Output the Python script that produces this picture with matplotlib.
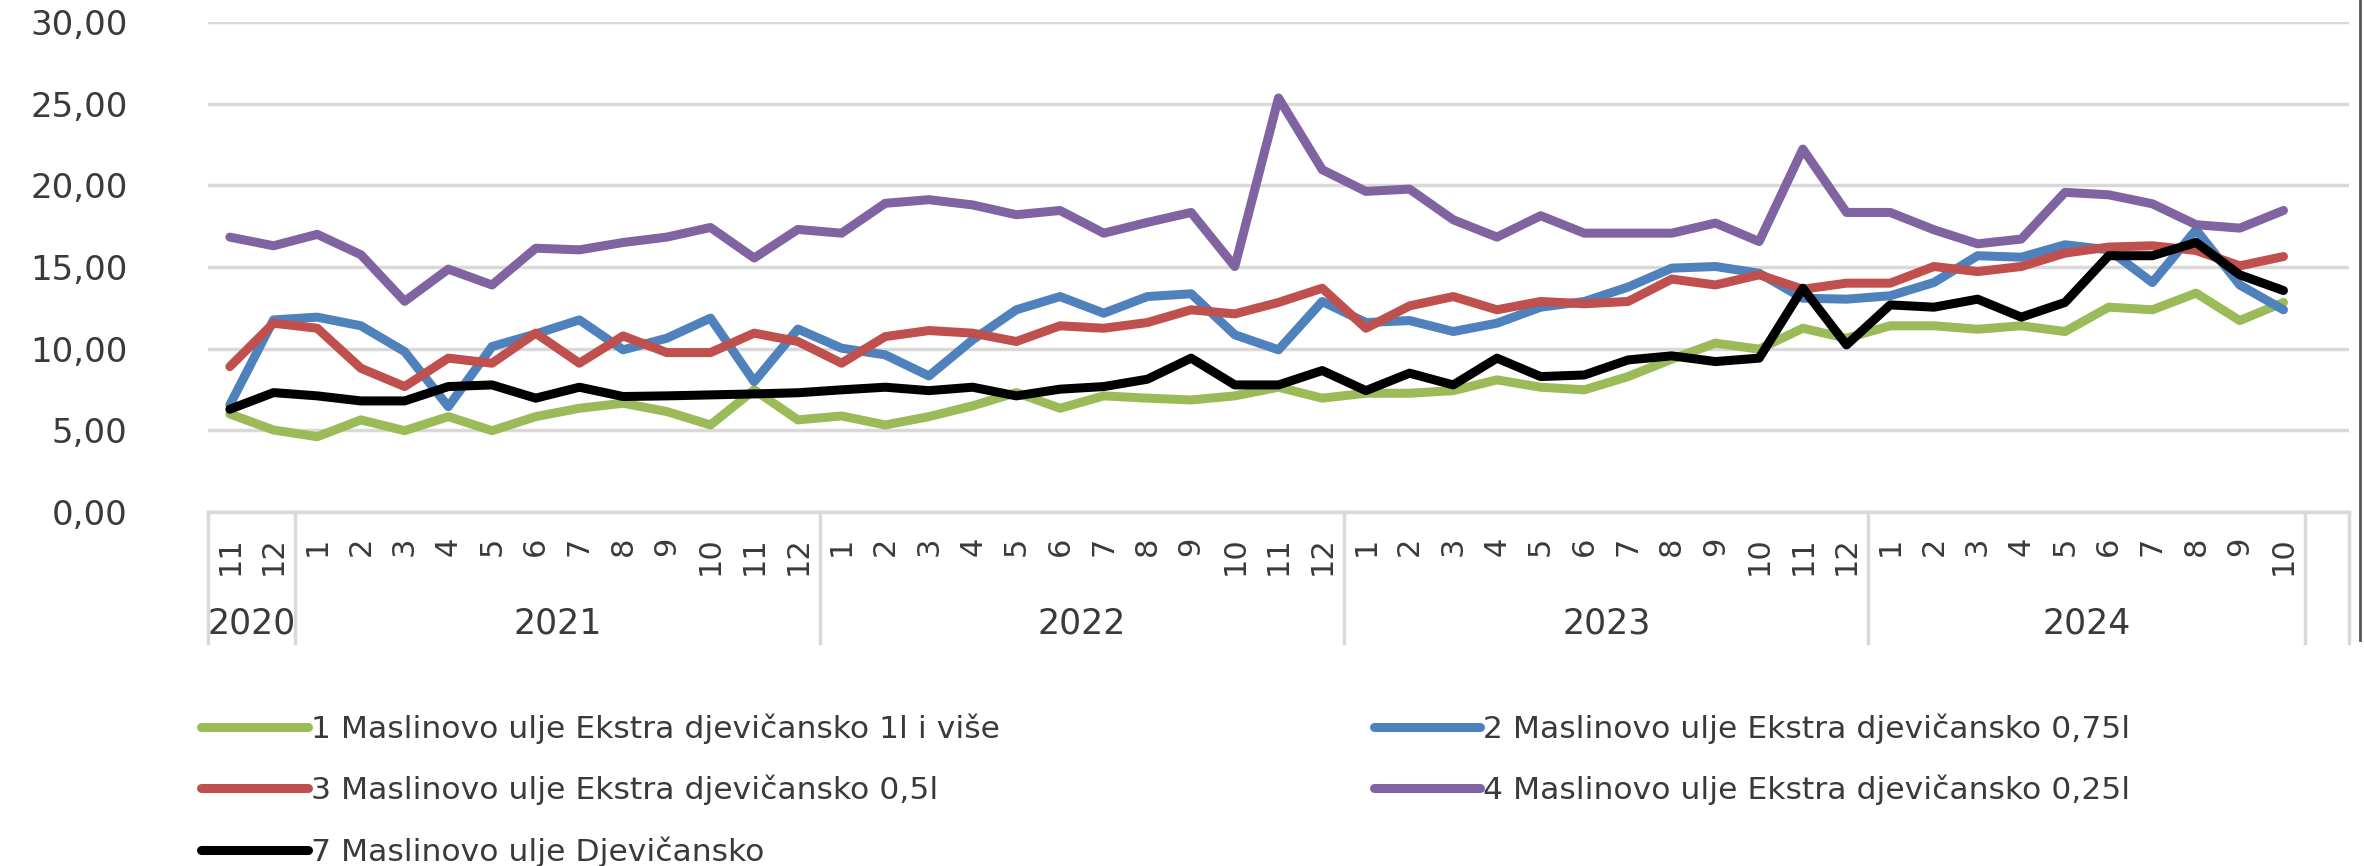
import matplotlib
matplotlib.use('agg')
import matplotlib.pyplot as plt
from matplotlib.lines import Line2D
from matplotlib.ticker import FuncFormatter, MultipleLocator
import matplotlib.transforms as mtransforms

# categories: month numbers per year (Nov 2020 .. Oct 2024)
year_labels = ['2020', '2021', '2022', '2023', '2024']
months_per_year = [[11, 12], list(range(1, 13)), list(range(1, 13)), list(range(1, 13)), list(range(1, 11))]

series_names = [
    '1 Maslinovo ulje Ekstra djevičansko 1l i više',
    '2 Maslinovo ulje Ekstra djevičansko 0,75l',
    '3 Maslinovo ulje Ekstra djevičansko 0,5l',
    '4 Maslinovo ulje Ekstra djevičansko 0,25l',
    '7 Maslinovo ulje Djevičansko',
]

ulje_1l = [6.0, 5.02, 4.61, 5.64, 4.98, 5.84, 4.98, 5.84, 6.35, 6.66, 6.15, 5.33, 7.48, 5.64,
           5.88, 5.33, 5.84, 6.5, 7.31, 6.35, 7.11, 6.97, 6.86, 7.11, 7.64, 6.97, 7.27, 7.27, 7.43, 8.09, 7.64,
           7.48, 8.29, 9.36, 10.34, 9.97, 11.25, 10.64, 11.4, 11.4, 11.19, 11.4, 11.05, 12.54, 12.38, 13.4, 11.72, 12.83]
ulje_075l = [6.56, 11.76, 11.93, 11.4, 9.82, 6.45, 10.13, 10.9, 11.76, 9.93, 10.64, 11.87, 7.98, 11.2,
             10.03, 9.62, 8.33, 10.54, 12.38, 13.19, 12.17, 13.19, 13.36, 10.85, 9.93, 12.89, 11.6, 11.72, 11.05, 11.56, 12.54,
             12.89, 13.77, 14.93, 15.03, 14.62, 13.09, 13.03, 13.24, 14.05, 15.69, 15.6, 16.36, 16.05, 14.05, 17.28, 13.9, 12.38]
ulje_05l = [8.9, 11.56, 11.25, 8.8, 7.68, 9.42, 9.11, 10.95, 9.11, 10.78, 9.76, 9.76, 10.95, 10.44,
            9.11, 10.74, 11.11, 10.95, 10.44, 11.4, 11.25, 11.6, 12.38, 12.13, 12.83, 13.7, 11.25, 12.62, 13.19, 12.38, 12.89,
            12.75, 12.89, 14.26, 13.9, 14.52, 13.64, 14.01, 14.01, 15.03, 14.72, 15.03, 15.85, 16.22, 16.3, 16.01, 15.07, 15.64]
ulje_025l = [16.83, 16.3, 17.0, 15.75, 12.9, 14.87, 13.9, 16.15, 16.05, 16.5, 16.83, 17.42, 15.55, 17.3,
             17.07, 18.9, 19.12, 18.8, 18.2, 18.46, 17.07, 17.73, 18.34, 15.03, 25.35, 20.96, 19.63, 19.77, 17.89, 16.83, 18.14,
             17.07, 17.07, 17.07, 17.69, 16.56, 22.22, 18.34, 18.34, 17.28, 16.42, 16.71, 19.57, 19.42, 18.87, 17.59, 17.38, 18.46]
ulje_djev = [6.29, 7.31, 7.11, 6.8, 6.8, 7.68, 7.78, 6.97, 7.64, 7.07, 7.11, 7.17, 7.23, 7.3,
             7.48, 7.64, 7.43, 7.64, 7.11, 7.52, 7.68, 8.13, 9.42, 7.78, 7.78, 8.66, 7.43, 8.5, 7.78, 9.42, 8.29,
             8.39, 9.31, 9.56, 9.21, 9.42, 13.7, 10.23, 12.68, 12.54, 13.03, 11.93, 12.83, 15.69, 15.69, 16.5, 14.52, 13.56]

colors = ['#9BBB59', '#4F81BD', '#C0504D', '#8064A2', '#000000']
txt = '#3a3a3a'
grid = '#d9d9d9'

W, H = 2364, 866
fig = plt.figure(figsize=(W / 100, H / 100), dpi=100)
ax = fig.add_axes([208 / W, 1 - 512 / H, (2349 - 208) / W, (512 - 22) / H])

x = list(range(len(ulje_1l)))
lines = []
for vals, c, name in zip([ulje_1l, ulje_075l, ulje_05l, ulje_025l, ulje_djev], colors, series_names):
    ln, = ax.plot(x, vals, color=c, lw=6.5, solid_joinstyle='round', solid_capstyle='round',
                  label=name, zorder=3)
    lines.append(ln)

ncat = len(x) + 1  # Excel leaves an empty category at the end
ax.set_xlim(-0.5, ncat - 0.5)
ax.set_ylim(0, 30)
ax.yaxis.set_major_locator(MultipleLocator(5))
ax.yaxis.set_major_formatter(FuncFormatter(lambda v, p: f'{v:.2f}'.replace('.', ',')))
ax.grid(axis='y', color=grid, lw=2.5, zorder=0)
ax.tick_params(axis='y', length=0, pad=58, labelsize=24.5, labelcolor=txt)
ax.set_xticks([])
for s in ['top', 'right', 'left']:
    ax.spines[s].set_visible(False)
ax.spines['bottom'].set_color(grid)
ax.spines['bottom'].set_linewidth(2.5)

# two-level category axis
trans = mtransforms.blended_transform_factory(ax.transData, ax.transAxes)
pos = 0
bounds = [-0.5]
for yl, ms in zip(year_labels, months_per_year):
    for k, m in enumerate(ms):
        ax.text(pos + k, -0.05, str(m), transform=trans, rotation=90, ha='center', va='top',
                fontsize=22, color=txt)
    ax.text(pos + (len(ms) - 1) / 2, -0.227, yl, transform=trans, ha='center', va='center',
            fontsize=25, color=txt)
    pos += len(ms)
    bounds.append(pos - 0.5)
bounds.append(ncat - 0.5)
for b in bounds:
    ax.plot([b, b], [0, -0.268], transform=trans, color=grid, lw=2.5, clip_on=False)

# chart border on the right
fig.add_artist(Line2D([2360 / W, 2360 / W], [1, 1 - 640 / H], color='#555555', lw=2))

order = [0, 2, 4, 1, 3]
fig.legend([lines[i] for i in order], [series_names[i] for i in order], ncol=2,
           loc='upper left', bbox_to_anchor=(173 / W, 1 - 685 / H), frameon=False,
           fontsize=22.6, handlelength=3.4, handletextpad=0.1, columnspacing=11.9,
           labelspacing=0.99, labelcolor=txt)

fig.savefig('out.png', dpi=100, facecolor='white')
